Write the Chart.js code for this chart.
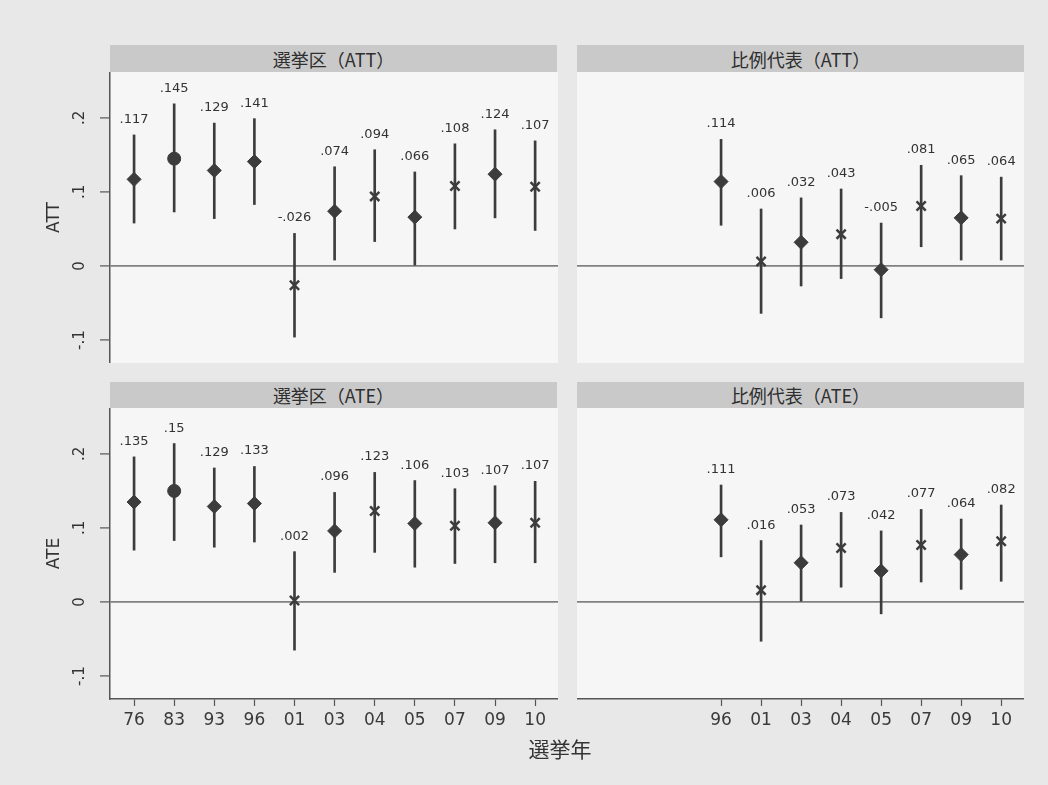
<!DOCTYPE html>
<html lang="ja">
<head>
<meta charset="UTF-8">
<title>選挙区・比例代表 ATT / ATE</title>
<script src="https://cdn.jsdelivr.net/npm/chart.js"></script>
<style>
  body { margin: 0; background: #e8e8e8; width: 1048px; height: 785px; overflow: hidden; position: relative; }
  .box { position: absolute; }
  .strip { position: absolute; background: #c9c9c9; color: #2e2e2e; font: 18px "Noto Sans CJK JP", "DejaVu Sans", sans-serif;
           display: flex; align-items: center; justify-content: center; }
  #xtitle { position: absolute; left: 460px; width: 200px; top: 733px; text-align: center; color: #333;
            font: 21px "Noto Sans CJK JP", sans-serif; }
</style>
</head>
<body>
<div class="strip" style="left:110px;top:45px;width:447px;height:27px">選挙区（ATT）</div>
<div class="strip" style="left:577px;top:45px;width:447px;height:27px">比例代表（ATT）</div>
<div class="strip" style="left:110px;top:382px;width:447px;height:26px">選挙区（ATE）</div>
<div class="strip" style="left:577px;top:382px;width:447px;height:26px">比例代表（ATE）</div>

<div class="box" style="left:0;top:72px;width:558px;height:291px"><canvas id="c1"></canvas></div>
<div class="box" style="left:577px;top:72px;width:447px;height:291px"><canvas id="c2"></canvas></div>
<div class="box" style="left:0;top:408px;width:558px;height:331px"><canvas id="c3"></canvas></div>
<div class="box" style="left:577px;top:408px;width:447px;height:331px"><canvas id="c4"></canvas></div>
<div id="xtitle">選挙年</div>

<script>
// 選挙年 (11 slots; 比例代表 starts at 96)
const years = ['76', '83', '93', '96', '01', '03', '04', '05', '07', '09', '10'];
const prYears = ['96', '01', '03', '04', '05', '07', '09', '10'];
const yTicks = [-0.1, 0, 0.1, 0.2];

// d = diamond, c = circle, x = cross
const smdAttEst = [0.117, 0.145, 0.129, 0.141, -0.026, 0.074, 0.094, 0.066, 0.108, 0.124, 0.107];
const smdAttLo  = [0.058, 0.073, 0.064, 0.083, -0.096, 0.008, 0.033, 0.000, 0.050, 0.065, 0.048];
const smdAttHi  = [0.177, 0.219, 0.193, 0.199, 0.044, 0.134, 0.157, 0.127, 0.165, 0.184, 0.169];
const smdAttMark = ['d', 'c', 'd', 'd', 'x', 'd', 'x', 'd', 'x', 'd', 'x'];

const prAttEst = [0.114, 0.006, 0.032, 0.043, -0.005, 0.081, 0.065, 0.064];
const prAttLo  = [0.055, -0.064, -0.027, -0.017, -0.070, 0.026, 0.008, 0.008];
const prAttHi  = [0.171, 0.077, 0.092, 0.104, 0.058, 0.136, 0.122, 0.120];
const prAttMark = ['d', 'x', 'd', 'x', 'd', 'x', 'd', 'x'];

const smdAteEst = [0.135, 0.15, 0.129, 0.133, 0.002, 0.096, 0.123, 0.106, 0.103, 0.107, 0.107];
const smdAteLo  = [0.070, 0.083, 0.074, 0.081, -0.065, 0.040, 0.067, 0.047, 0.052, 0.053, 0.053];
const smdAteHi  = [0.196, 0.214, 0.181, 0.183, 0.068, 0.148, 0.175, 0.164, 0.153, 0.157, 0.163];
const smdAteMark = ['d', 'c', 'd', 'd', 'x', 'd', 'x', 'd', 'x', 'd', 'x'];

const prAteEst = [0.111, 0.016, 0.053, 0.073, 0.042, 0.077, 0.064, 0.082];
const prAteLo  = [0.061, -0.053, 0.000, 0.020, -0.016, 0.027, 0.017, 0.028];
const prAteHi  = [0.158, 0.083, 0.104, 0.121, 0.096, 0.125, 0.112, 0.131];
const prAteMark = ['d', 'x', 'd', 'x', 'd', 'x', 'd', 'x'];

const ink = '#3c3c3c';
const styleOf = { d: 'rectRot', c: 'circle', x: 'crossRot' };
const radiusOf = { d: 7, c: 6.5, x: 6.5 };

function fmt(v) {
  return String(v).replace(/^(-?)0\./, '$1.');
}

const panelPlugin = {
  id: 'panel',
  beforeDraw(chart) {
    const a = chart.chartArea, ctx = chart.ctx;
    ctx.save();
    ctx.fillStyle = '#f6f6f6';
    ctx.fillRect(a.left, a.top, a.right - a.left, a.bottom - a.top);
    ctx.restore();
  },
  afterDraw(chart, args, opts) {
    const ctx = chart.ctx, xs = chart.scales.x, ys = chart.scales.y;
    ctx.save();
    ctx.fillStyle = '#333';
    // value labels above the intervals
    ctx.font = '13px "DejaVu Sans"';
    ctx.textAlign = 'center';
    ctx.textBaseline = 'alphabetic';
    opts.idx.forEach((k, i) => {
      ctx.fillText(fmt(opts.est[i]), xs.getPixelForValue(k), ys.getPixelForValue(opts.hi[i]) - 12);
    });
    if (opts.yTitle) {
      // rotated y tick labels
      ctx.font = '15px "DejaVu Sans"';
      ys.ticks.forEach(t => {
        const y = ys.getPixelForValue(t.value);
        ctx.save();
        ctx.translate(80, y);
        ctx.rotate(-Math.PI / 2);
        ctx.textBaseline = 'middle';
        ctx.fillText(fmt(t.value), 0, 0);
        ctx.restore();
      });
      ctx.font = '17px "DejaVu Sans"';
      ctx.save();
      ctx.translate(55, (ys.top + ys.bottom) / 2);
      ctx.rotate(-Math.PI / 2);
      ctx.textBaseline = 'middle';
      ctx.fillText(opts.yTitle, 0, 0);
      ctx.restore();
    }
    ctx.restore();
  }
};

function makeChart(id, cats, est, lo, hi, mark, showY, showX, yTitle) {
  const idx = cats.map(c => years.indexOf(c));
  return new Chart(document.getElementById(id), {
    type: 'bar',
    data: {
      datasets: [
        {
          type: 'bar',
          data: idx.map((k, i) => ({ x: k, y: [lo[i], hi[i]] })),
          backgroundColor: ink,
          barThickness: 2,
          grouped: false,
          order: 2
        },
        {
          type: 'scatter',
          data: idx.map((k, i) => ({ x: k, y: est[i] })),
          pointStyle: mark.map(m => styleOf[m]),
          pointRadius: mark.map(m => radiusOf[m]),
          borderWidth: mark.map(m => (m === 'x' ? 2.5 : 1)),
          backgroundColor: ink,
          borderColor: ink,
          order: 1
        }
      ]
    },
    options: {
      responsive: true,
      maintainAspectRatio: false,
      animation: false,
      events: [],
      layout: { padding: 0, autoPadding: false },
      plugins: {
        legend: { display: false },
        tooltip: { enabled: false },
        panel: { idx, est, hi, yTitle }
      },
      scales: {
        x: {
          type: 'linear',
          display: showX,
          min: -0.6,
          max: 10.57,
          offset: false,
          afterBuildTicks: s => { s.ticks = idx.map(v => ({ value: v })); },
          afterFit: s => { s.height = showX ? 40 : 0; },
          ticks: {
            callback: v => years[v],
            color: '#3a3a3a',
            font: { family: 'DejaVu Sans', size: 17 },
            padding: 4,
            maxRotation: 0,
            autoSkip: false
          },
          grid: { offset: false, drawOnChartArea: false, tickLength: 7, tickColor: '#555', tickWidth: 1.2 },
          border: { display: true, color: '#555', width: 1.5 }
        },
        y: {
          type: 'linear',
          min: -0.131,
          max: 0.262,
          afterBuildTicks: s => { s.ticks = yTicks.map(v => ({ value: v })); },
          afterFit: s => { s.width = showY ? 110 : 0; },
          ticks: { display: false },
          grid: {
            color: c => (c.tick && c.tick.value === 0 ? '#808080' : 'rgba(0,0,0,0)'),
            lineWidth: 1.8,
            drawTicks: showY,
            tickLength: 10,
            tickColor: '#555',
            tickWidth: 1.2
          },
          border: { display: showY, color: '#555', width: 1.5 }
        }
      }
    },
    plugins: [panelPlugin]
  });
}

makeChart('c1', years, smdAttEst, smdAttLo, smdAttHi, smdAttMark, true, false, 'ATT');
makeChart('c2', prYears, prAttEst, prAttLo, prAttHi, prAttMark, false, false, null);
makeChart('c3', years, smdAteEst, smdAteLo, smdAteHi, smdAteMark, true, true, 'ATE');
makeChart('c4', prYears, prAteEst, prAteLo, prAteHi, prAteMark, false, true, null);
</script>
</body>
</html>
